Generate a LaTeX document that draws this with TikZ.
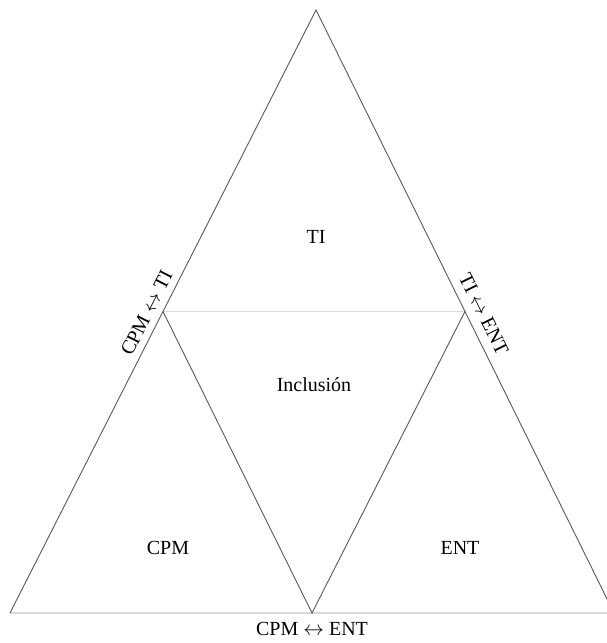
\documentclass[tikz,border=0pt]{standalone}
\usepackage{fontspec}
\setmainfont{Liberation Serif}
\usetikzlibrary{calc}

\begin{document}
\begin{tikzpicture}[x=1pt, y=-1pt,
    edge/.style={line width=0.9pt, black!65},
    faint/.style={line width=1.2pt, black!15},
    lbl/.style={font=\fontsize{20}{24}\selectfont, inner sep=3pt}]
  \clip (0,0) rectangle (607,643);
  % corners of the big triangle
  \coordinate (A) at (316,10);
  \coordinate (B) at (10,613);
  \coordinate (C) at (614,613);
  \coordinate (AB) at ($(A)!0.5!(B)$);
  \coordinate (AC) at ($(A)!0.5!(C)$);
  \coordinate (BC) at ($(B)!0.5!(C)$);
  % outline and inner triangle
  \draw[faint] (B) -- (C);
  \draw[faint] (AB) -- (AC);
  \draw[edge] (B) -- (A) -- (C);
  \draw[edge] (AB) -- (BC) -- (AC);
  % edge labels
  \path (B) -- (A) node[lbl, pos=0.487, sloped, above=4pt] {CPM $\leftrightarrow$ TI};
  \path (A) -- (C) node[lbl, pos=0.516, sloped, above=6pt] {TI $\leftrightarrow$ ENT};
  \node[lbl, below=6pt] (lblBC) at (BC) {CPM $\leftrightarrow$ ENT};
  % region labels
  \node[lbl] (ti) at (316,237) {TI};
  \node[lbl] (incl) at (314,385) {Inclusión};
  \node[lbl] (cpm) at (168,548) {CPM};
  \node[lbl] (ent) at (460,548) {ENT};
\end{tikzpicture}
\end{document}
